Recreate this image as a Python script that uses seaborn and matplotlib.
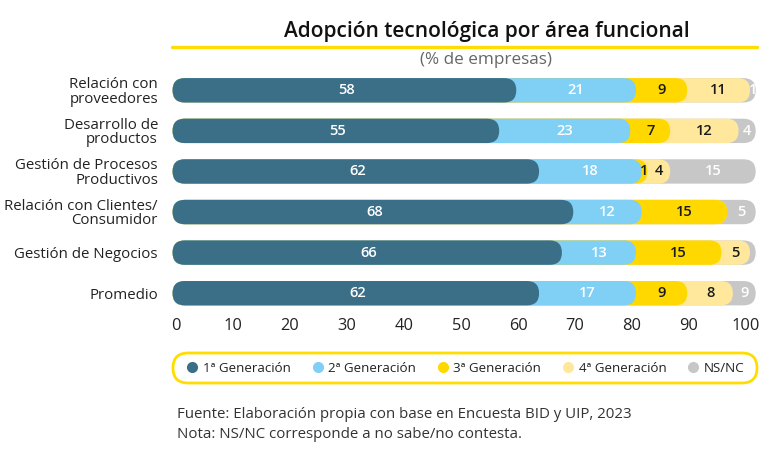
import matplotlib
matplotlib.use("Agg")
import matplotlib.pyplot as plt
from matplotlib.patches import FancyBboxPatch
from matplotlib.lines import Line2D
import numpy as np
import pandas as pd
import seaborn as sns

AREAS = ["Relación con\nproveedores", "Desarrollo de\nproductos",
         "Gestión de Procesos\nProductivos", "Relación con Clientes/\nConsumidor",
         "Gestión de Negocios", "Promedio"]
SERIES = ["1ª Generación", "2ª Generación", "3ª Generación", "4ª Generación", "NS/NC"]
GEN1 = [58, 55, 62, 68, 66, 62]
GEN2 = [21, 23, 18, 12, 13, 17]
GEN3 = [9, 7, 1, 15, 15, 9]
GEN4 = [11, 12, 4, 0, 5, 8]
NSNC = [1, 4, 15, 5, 1, 9]
SIN_ETIQUETA = [("Gestión de Negocios", "NS/NC")]   # sliver too thin to label
TICKS = [0, 10, 20, 30, 40, 50, 60, 70, 80, 90, 100]

COLORS = ["#3b6f87", "#80cff5", "#ffd800", "#ffe89c", "#c7c7c7"]
TXT_COLORS = ["white", "white", "#1a1a1a", "#1a1a1a", "white"]
FONT = "Open Sans"

sns.set_theme(style="white")
plt.rcParams["font.family"] = [FONT, "DejaVu Sans"]

values = np.array([GEN1, GEN2, GEN3, GEN4, NSNC], dtype=float)
cum = np.minimum(values.cumsum(axis=0), 100)      # stacked ends, clipped to 100
start = np.vstack([np.zeros(len(AREAS)), cum[:-1]])

W, H = 770, 468
fig = plt.figure(figsize=(W / 100, H / 100), dpi=100)
ax = fig.add_axes([176 / W, (H - 313.5) / H, 570 / W, 243.5 / H])

# draw cumulative bars back to front, then round their ends
for k in range(len(SERIES) - 1, -1, -1):
    df = pd.DataFrame({"area": AREAS, "x": cum[k]})
    sns.barplot(data=df, x="x", y="area", orient="h", color=COLORS[k],
                width=0.6, saturation=1, ax=ax)

CAP = 1.7            # x-units the rounded end sticks out past the value
aspect = (1 / 40.6) / (1 / 5.7)
bars = list(ax.patches)
for p in bars:
    x0, y0, w, h = p.get_x(), p.get_y(), p.get_width(), p.get_height()
    rb = FancyBboxPatch((x0 - 0.6, y0), w + 0.6 + CAP, h,
                        boxstyle=f"round,pad=0,rounding_size={h / 2 / aspect:.3f}",
                        mutation_aspect=aspect, facecolor=p.get_facecolor(),
                        edgecolor="none", clip_on=False, zorder=p.get_zorder())
    ax.add_patch(rb)
    p.remove()

for k, name in enumerate(SERIES):
    for i, area in enumerate(AREAS):
        v = int(values[k, i])
        if v == 0 or (area, name) in SIN_ETIQUETA:
            continue
        if k == 0:
            xc = (cum[k, i] + CAP) / 2
        else:
            xc = (start[k, i] + cum[k, i]) / 2 + CAP
        ax.text(xc, i, str(v), ha="center", va="center", fontsize=10.5,
                fontweight="semibold", color=TXT_COLORS[k], zorder=10)

ax.set_xlim(0, 100)
ax.set_ylim(len(AREAS) - 0.5, -0.5)
ax.set_xticks(TICKS)
ax.set_xticklabels([str(t) for t in TICKS], fontsize=11.8, color="#222222")
ax.set_yticklabels(AREAS, fontsize=10.8, color="#222222", linespacing=0.95)
ax.tick_params(axis="both", length=0)
ax.tick_params(axis="x", pad=3)
ax.tick_params(axis="y", pad=13)
ax.set_xlabel("")
ax.set_ylabel("")
sns.despine(ax=ax, left=True, bottom=True)

# title, underline, subtitle
fig.text(487 / W, 1 - 32 / H, "Adopción tecnológica por área funcional",
         ha="center", va="center", fontsize=15, fontweight="semibold", color="#111111")
fig.add_artist(Line2D([172 / W, 757 / W], [1 - 46.5 / H, 1 - 46.5 / H],
                      color="#ffdd00", lw=2.4, transform=fig.transFigure))
fig.text(486 / W, 1 - 60 / H, "(% de empresas)", ha="center", va="center",
         fontsize=12.3, color="#666666")

# legend with rounded yellow frame
frame = FancyBboxPatch((173 / W, 1 - 383 / H), 584 / W, 30 / H,
                       boxstyle=f"round,pad=0,rounding_size={15 / W:.4f}",
                       mutation_aspect=W / H, transform=fig.transFigure,
                       facecolor="white", edgecolor="#ffdd00", lw=2)
fig.add_artist(frame)
handles = [Line2D([], [], marker="o", ls="none", markersize=8,
                  markerfacecolor=c, markeredgecolor="none") for c in COLORS]
fig.legend(handles, SERIES, loc="center", bbox_to_anchor=(465 / W, 1 - 368 / H),
           ncol=5, frameon=False, fontsize=9.6, handletextpad=0.3,
           columnspacing=1.5, handlelength=1.0, labelcolor="#222222")

fig.text(177 / W, 1 - 415 / H,
         "Fuente: Elaboración propia con base en Encuesta BID y UIP, 2023",
         ha="left", va="center", fontsize=10.8, color="#333333")
fig.text(177 / W, 1 - 434 / H, "Nota: NS/NC corresponde a no sabe/no contesta.",
         ha="left", va="center", fontsize=10.8, color="#333333")

fig.savefig("out.png", dpi=100)
